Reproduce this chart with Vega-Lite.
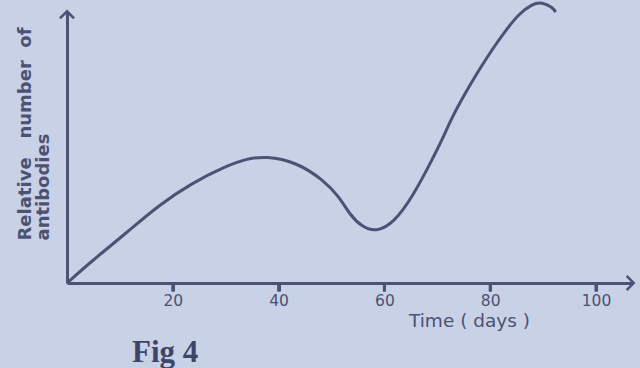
{
  "$schema": "https://vega.github.io/schema/vega-lite/v6.json",
  "width": 566,
  "height": 271,
  "autosize": "none",
  "padding": {"left": 67, "top": 12, "right": 7, "bottom": 85},
  "background": "#c8d1e6",
  "config": {"view": {"stroke": null}, "font": "DejaVu Sans"},
  "title": {"text": "Fig 4", "orient": "bottom", "anchor": "start", "font": "Liberation Serif", "fontSize": 31, "fontWeight": "bold", "color": "#3e4566", "dx": 116, "offset": 8},
  "layer": [
    {
      "data": {"values": [
        {"day": 0, "val": 0},
        {"day": 4.7, "val": 22},
        {"day": 11.2, "val": 50},
        {"day": 17.4, "val": 78},
        {"day": 23.6, "val": 100},
        {"day": 30.1, "val": 117},
        {"day": 33.8, "val": 124},
        {"day": 37.6, "val": 127},
        {"day": 43.3, "val": 121},
        {"day": 48.5, "val": 103},
        {"day": 51.5, "val": 86},
        {"day": 53.5, "val": 68},
        {"day": 55.8, "val": 56},
        {"day": 58.4, "val": 51},
        {"day": 61.8, "val": 60},
        {"day": 65.5, "val": 88},
        {"day": 68.5, "val": 118},
        {"day": 70.9, "val": 143},
        {"day": 72.8, "val": 166},
        {"day": 75.4, "val": 191},
        {"day": 77.9, "val": 213},
        {"day": 80.3, "val": 233},
        {"day": 83.0, "val": 253},
        {"day": 85.4, "val": 269},
        {"day": 87.9, "val": 279},
        {"day": 89.8, "val": 281},
        {"day": 91.7, "val": 276},
        {"day": 92.4, "val": 271}
      ]},
      "mark": {"type": "line", "interpolate": "basis", "color": "#4b5274", "strokeWidth": 3, "clip": false},
      "encoding": {
        "x": {"field": "day", "type": "quantitative", "scale": {"domain": [0, 107], "nice": false},
          "axis": {"values": [20, 40, 60, 80, 100], "grid": false, "domainColor": "#4b5274", "domainWidth": 3, "ticks": true, "tickSize": 8, "tickWidth": 3, "tickColor": "#4b5274", "labelPadding": 2, "labelFontSize": 15.5, "labelColor": "#4b5274", "labelBaseline": "top", "title": "Time ( days )", "titleFontSize": 18.5, "titleFontWeight": "normal", "titleColor": "#4b5274", "titleX": 402, "titleY": 37, "titleBaseline": "middle"}},
        "y": {"field": "val", "type": "quantitative", "scale": {"domain": [0, 271], "nice": false},
          "axis": {"grid": false, "ticks": false, "labels": false, "domainColor": "#4b5274", "domainWidth": 3, "title": ["Relative\u00a0\u00a0 number\u00a0 of", "antibodies"], "titleAngle": 270, "titleAlign": "left", "titleBaseline": "middle", "titleX": -42, "titleY": 228, "titleFontSize": 18, "titleLineHeight": 18, "titleFontWeight": "bold", "titleColor": "#4b5274"}}
      }
    },
    {
      "data": {"values": [{"day": 20}, {"day": 40}, {"day": 60}, {"day": 80}, {"day": 100}]},
      "mark": {"type": "tick", "orient": "vertical", "color": "#4b5274", "thickness": 3, "size": 9, "opacity": 1, "clip": false},
      "encoding": {"x": {"field": "day", "type": "quantitative"}, "y": {"datum": -4, "type": "quantitative"}}
    },
    {
      "data": {"values": [{"day": 107, "val": 0}]},
      "mark": {"type": "point", "shape": "M-0.9,-1L0.1,0L-0.9,1", "filled": false, "size": 200, "strokeWidth": 2.5, "color": "#4b5274", "opacity": 1, "clip": false},
      "encoding": {"x": {"field": "day", "type": "quantitative"}, "y": {"field": "val", "type": "quantitative"}}
    },
    {
      "data": {"values": [{"day": 0, "val": 271}]},
      "mark": {"type": "point", "shape": "M-1,0.9L0,-0.1L1,0.9", "filled": false, "size": 200, "strokeWidth": 2.5, "color": "#4b5274", "opacity": 1, "clip": false},
      "encoding": {"x": {"field": "day", "type": "quantitative"}, "y": {"field": "val", "type": "quantitative"}}
    }
  ]
}
